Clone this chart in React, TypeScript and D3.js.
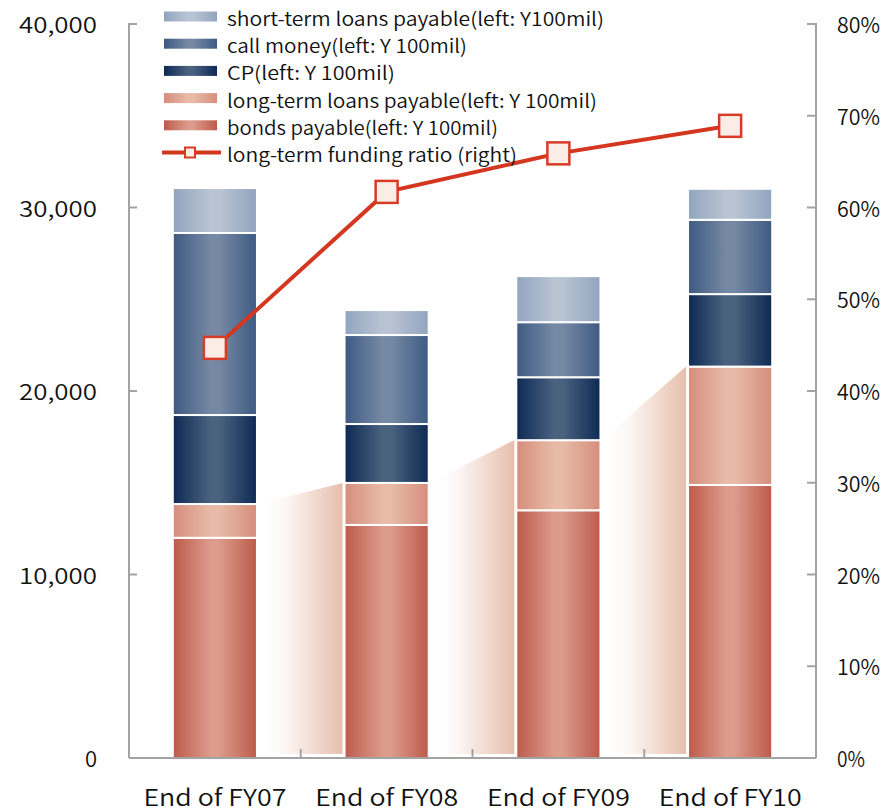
import React from "react";
import * as d3 from "d3";

const categories = ["End of FY07", "End of FY08", "End of FY09", "End of FY10"];
const bondsPayable = [12000, 12700, 13500, 14880];
const longTermLoans = [1840, 2290, 3820, 6450];
const cpIssued = [4850, 3210, 3430, 3950];
const callMoney = [9920, 4850, 3000, 4050];
const shortTermLoans = [2450, 1360, 2510, 1690];
const fundingRatio = [44.7, 61.7, 65.9, 68.9];

const leftTicks = [0, 10000, 20000, 30000, 40000];
const rightTicks = [0, 10, 20, 30, 40, 50, 60, 70, 80];

const seriesKeys = ["bonds", "loans", "cp", "call", "short"];
const seriesLabels: Record<string, string> = {
  short: "short-term loans payable(left: Y100mil)",
  call: "call money(left: Y 100mil)",
  cp: "CP(left: Y 100mil)",
  loans: "long-term loans payable(left: Y 100mil)",
  bonds: "bonds payable(left: Y 100mil)",
};
const ratioLabel = "long-term funding ratio (right)";

// edge / centre colours of each cylinder-like gradient
const gradColors: Record<string, [string, string]> = {
  bonds: ["#bd5a4a", "#dc9b8b"],
  loans: ["#d68d7c", "#e7bba7"],
  cp: ["#0d2a54", "#4b627f"],
  call: ["#3d5a82", "#7689a4"],
  short: ["#91a4bf", "#b9c4d3"],
};

const W = 895;
const H = 812;
const left = 129;
const right = 816;
const top = 24;
const bottom = 758;
const FONT = "'Noto Sans CJK JP', 'Noto Sans', sans-serif";
const WEIGHT = 350;

export default function App() {
  const rows = categories.map((c, i) => ({
    cat: c,
    bonds: bondsPayable[i],
    loans: longTermLoans[i],
    cp: cpIssued[i],
    call: callMoney[i],
    short: shortTermLoans[i],
  }));
  const stacked = d3.stack<any>().keys(seriesKeys)(rows);

  const x = d3.scaleBand<string>().domain(categories).range([left, right]).padding(0);
  const yL = d3.scaleLinear().domain([0, 40000]).range([bottom, top]);
  const yR = d3.scaleLinear().domain([0, 80]).range([bottom, top]);
  const barW = x.step() * 0.49;
  const cx = (c: string) => (x(c) as number) + x.bandwidth() / 2;

  const line = d3
    .line<number>()
    .x((_, i) => cx(categories[i]))
    .y((d) => yR(d));

  const longTotals = categories.map((_, i) => bondsPayable[i] + longTermLoans[i]);

  const legendOrder = ["short", "call", "cp", "loans", "bonds"];
  const legendWidths: Record<string, number> = {
    short: 377,
    call: 240,
    cp: 168,
    loans: 370,
    bonds: 271,
  };
  const rowStep = 27.2;
  const legendTop = 16.5;

  return (
    <svg width={W} height={H} style={{ position: "absolute", left: 0, top: 0, background: "#fff" }}>
      <defs>
        {seriesKeys.map((k) => (
          <linearGradient key={k} id={`g-${k}`} x1="0" x2="1" y1="0" y2="0">
            <stop offset="0" stopColor={gradColors[k][0]} />
            <stop offset="0.45" stopColor={gradColors[k][1]} />
            <stop offset="0.55" stopColor={gradColors[k][1]} />
            <stop offset="1" stopColor={gradColors[k][0]} />
          </linearGradient>
        ))}
        <linearGradient id="g-link" x1="0" x2="1" y1="0" y2="0">
          <stop offset="0" stopColor="#ffffff" stopOpacity="0" />
          <stop offset="0.35" stopColor="#fcf5f2" stopOpacity="1" />
          <stop offset="1" stopColor="#e6bfac" stopOpacity="1" />
        </linearGradient>
      </defs>

      {/* connectors showing growth of long-term funding */}
      {categories.slice(0, -1).map((c, i) => {
        const n = categories[i + 1];
        const x0 = cx(c) + barW / 2 + 1;
        const x1 = cx(n) - barW / 2 - 2;
        const pts = [
          [x0, yL(longTotals[i])],
          [x1, yL(longTotals[i + 1])],
          [x1, bottom - 4],
          [x0, bottom - 4],
        ];
        return <polygon key={c} points={pts.map((p) => p.join(",")).join(" ")} fill="url(#g-link)" />;
      })}

      {/* stacked bars */}
      {stacked.map((s) => (
        <g key={s.key}>
          {s.map((d, i) => {
            const c = categories[i];
            const y0 = yL(d[1]);
            const y1 = yL(d[0]);
            return (
              <rect
                key={c}
                x={cx(c) - barW / 2}
                y={y0}
                width={barW}
                height={y1 - y0}
                fill={`url(#g-${s.key})`}
                stroke="#ffffff"
                strokeWidth={2}
              />
            );
          })}
        </g>
      ))}

      {/* axes */}
      <g stroke="#a3a3a3" strokeWidth={2} fill="none">
        <line x1={left} x2={left} y1={top - 1} y2={bottom} />
        <line x1={right} x2={right} y1={top - 1} y2={bottom} />
        <line x1={left} x2={right} y1={bottom} y2={bottom} />
        {leftTicks.map((t) => (
          <line key={t} x1={left} x2={left + 8} y1={yL(t)} y2={yL(t)} />
        ))}
        {rightTicks.map((t) => (
          <line key={t} x1={right} x2={right - 9} y1={yR(t)} y2={yR(t)} />
        ))}
        {categories.slice(1).map((c) => (
          <line key={c} x1={x(c)} x2={x(c)} y1={bottom} y2={bottom - 9} />
        ))}
      </g>

      {/* tick labels */}
      <g fontFamily={FONT} fontWeight={WEIGHT} fontSize={22} fill="#111">
        {leftTicks.map((t) => {
          const s = d3.format(",")(t);
          return (
            <text
              key={t}
              x={97}
              y={yL(t) + 9}
              textAnchor="end"
              textLength={s.length > 1 ? 78 : undefined}
              lengthAdjust="spacingAndGlyphs"
            >
              {s}
            </text>
          );
        })}
        {rightTicks.map((t) => {
          const s = `${t}%`;
          return (
            <text
              key={t}
              x={837}
              y={yR(t) + 9}
              textLength={s.length > 2 ? 43 : 28}
              lengthAdjust="spacingAndGlyphs"
            >
              {s}
            </text>
          );
        })}
        {categories.map((c) => (
          <text
            key={c}
            x={cx(c)}
            y={806}
            textAnchor="middle"
            fontSize={23}
            textLength={143}
            lengthAdjust="spacingAndGlyphs"
          >
            {c}
          </text>
        ))}
      </g>

      {/* funding ratio line */}
      <path d={line(fundingRatio) || ""} fill="none" stroke="#d4371f" strokeWidth={4} />
      {fundingRatio.map((v, i) => (
        <rect
          key={i}
          x={cx(categories[i]) - 11}
          y={yR(v) - 11}
          width={22}
          height={22}
          fill="#fbede6"
          stroke="#d63c26"
          strokeWidth={2.5}
        />
      ))}

      {/* legend */}
      <g fontFamily={FONT} fontWeight={WEIGHT} fontSize={19} fill="#111">
        {legendOrder.map((k, i) => {
          const cy = legendTop + i * rowStep;
          return (
            <g key={k}>
              <rect x={164} y={cy - 5} width={53} height={10} fill={`url(#g-${k})`} />
              <text x={227} y={cy + 9.5} textLength={legendWidths[k]} lengthAdjust="spacingAndGlyphs">
                {seriesLabels[k]}
              </text>
            </g>
          );
        })}
        {(() => {
          const cy = legendTop + 5 * rowStep;
          return (
            <g>
              <line x1={162} x2={221} y1={cy} y2={cy} stroke="#d4371f" strokeWidth={4} />
              <rect x={185} y={cy - 5} width={10} height={10} fill="#fbede6" stroke="#d63c26" strokeWidth={2} />
              <text x={227} y={cy + 9.5} textLength={290} lengthAdjust="spacingAndGlyphs">
                {ratioLabel}
              </text>
            </g>
          );
        })()}
      </g>
    </svg>
  );
}
